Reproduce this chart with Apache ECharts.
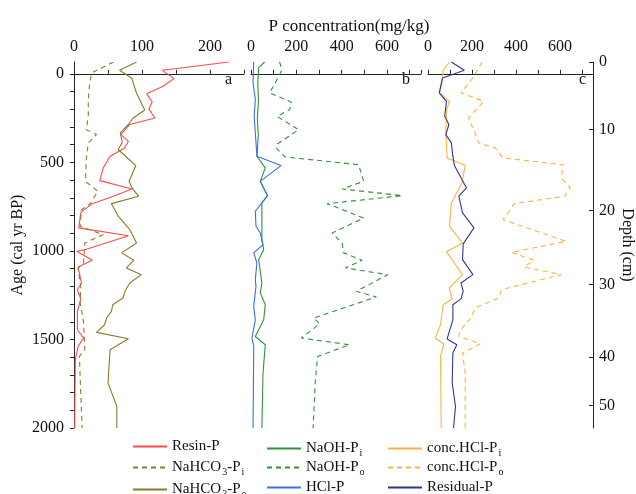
<!DOCTYPE html>
<html>
<head>
<meta charset="utf-8">
<script src="https://cdn.jsdelivr.net/npm/echarts@6/dist/echarts.min.js"></script>
<style>html,body{margin:0;padding:0;background:#fff}#c{width:636px;height:494px}</style>
</head>
<body>
<div id="c"></div>
<script>
// ---- data: [value (mg/kg), age (cal yr BP)] ----
const resinP = [[228,-67],[130,-20],[147,27],[131,70],[107,113],[115,160],[110,198],[119,249],[82,286],[69,343],[80,381],[74,420],[53,465],[43,531],[38,603],[85,650],[58,691],[27,733],[10,782],[7,870],[80,914],[16,993],[4,1002],[27,1053],[6,1091],[11,1181],[5,1219],[10,1272],[5,1341],[5,1445],[14,1492],[6,1539],[2,1614],[1,2000]];
const nahco3Pi = [[58,-67],[26,-5],[23,51],[21,145],[21,240],[18,315],[33,343],[21,390],[18,484],[17,607],[35,663],[24,733],[11,767],[9,861],[43,908],[16,955],[14,1068],[6,1100],[10,1200],[9,1290],[14,1400],[16,1558],[8,1596],[9,1710],[12,2000]];
const nahco3Po = [[92,-67],[67,-20],[85,25],[92,110],[104,204],[87,249],[80,286],[68,333],[71,386],[65,427],[91,518],[81,606],[85,643],[95,691],[55,733],[65,804],[82,880],[92,955],[70,1011],[88,1053],[77,1096],[99,1134],[82,1181],[75,1228],[72,1266],[57,1304],[55,1341],[48,1379],[45,1417],[33,1460],[80,1496],[53,1558],[50,1746],[63,1878],[63,2000]];
const naohPi = [[60,-67],[34,-35],[30,50],[33,150],[28,250],[32,350],[26,465],[63,531],[41,607],[73,688],[48,729],[48,936],[56,993],[34,1049],[48,1181],[41,1237],[63,1304],[56,1389],[19,1483],[63,1530],[53,1690],[48,2000]];
const naohPo = [[126,-67],[137,-24],[107,51],[82,107],[178,160],[171,202],[115,240],[210,315],[112,400],[115,425],[151,469],[475,513],[497,607],[402,650],[667,688],[336,733],[497,814],[358,899],[402,955],[409,1011],[490,1053],[416,1096],[603,1134],[465,1228],[553,1260],[276,1379],[303,1411],[222,1492],[435,1530],[294,1596],[284,1727],[274,2000]];
const hclP = [[12,-67],[9,51],[19,145],[14,240],[19,333],[26,465],[132,518],[41,607],[73,688],[19,776],[22,861],[41,899],[53,965],[12,1011],[26,1068],[19,1162],[22,1200],[12,1313],[19,1389],[4,1492],[12,1539],[9,2000]];
const concHclPi = [[98,-67],[69,-20],[66,32],[54,107],[98,155],[85,200],[81,333],[87,475],[169,518],[154,616],[106,729],[98,861],[157,955],[84,1005],[120,1068],[157,1134],[96,1209],[110,1271],[69,1304],[57,1417],[32,1492],[72,1524],[57,1596],[60,2000]];
const concHclPo = [[246,-67],[204,23],[150,107],[253,155],[184,249],[213,333],[231,390],[305,418],[341,475],[614,513],[606,588],[646,644],[621,691],[393,733],[341,823],[628,946],[378,1008],[481,1053],[437,1091],[606,1134],[334,1219],[319,1266],[216,1322],[194,1379],[143,1454],[140,1483],[238,1524],[157,1577],[169,1690],[169,2000]];
const residualP = [[106,-67],[165,-20],[66,23],[51,107],[84,155],[76,240],[95,286],[81,343],[106,390],[113,465],[120,518],[175,644],[140,691],[157,785],[209,870],[160,960],[157,1049],[204,1134],[150,1181],[160,1228],[150,1271],[113,1304],[113,1389],[87,1497],[131,1530],[113,1577],[110,1746],[125,1878],[116,2000]];

// ---- axes ----
const ageTicks = [0,100,200,300,400,500,600,700,800,900,1000,1100,1200,1300,1400,1500,1600,1700,1800,1900,2000];
const ageLabels = [0,500,1000,1500,2000];
const depthLabels = [0,10,20,30,40,50];
const depthAges = [-67,315,772,1190,1599,1872];
const xLabelsA = [0,100,200];
const xLabelsBC = [0,200,400,600];

const FONT = "'Liberation Serif','Times New Roman',serif";
const chart = echarts.init(document.getElementById('c'), null, {renderer:'canvas'});

const axisLine = {show:true, lineStyle:{color:'#222', width:1}};
function xAx(grid, max, interval, labels){
  return {type:'value', gridIndex:grid, position:'top', min:0, max:max, interval:interval,
    axisLine:axisLine, splitLine:{show:false},
    axisTick:{show:true, length:4, lineStyle:{color:'#222'}},
    axisLabel:{fontFamily:FONT, fontSize:16, color:'#111', margin:7,
      formatter:(v)=> labels.indexOf(v)>=0 ? String(v) : ''}};
}
function yHidden(grid){
  return {type:'value', gridIndex:grid, inverse:true, min:-67, max:2000, show:false};
}
const subs = {
  'Resin-P':'{t|Resin-P}',
  'NaHCO3-Pi':'{t|NaHCO}{s|3}{t|-P}{s|i}',
  'NaHCO3-Po':'{t|NaHCO}{s|3}{t|-P}{s|o}',
  'NaOH-Pi':'{t|NaOH-P}{s|i}',
  'NaOH-Po':'{t|NaOH-P}{s|o}',
  'HCl-P':'{t|HCl-P}',
  'conc.HCl-Pi':'{t|conc.HCl-P}{s|i}',
  'conc.HCl-Po':'{t|conc.HCl-P}{s|o}',
  'Residual-P':'{t|Residual-P}'
};
const legendCols = [132, 266, 387];
const legendRows = [439, 458, 480];
const legendGrid = [
  ['Resin-P','NaOH-Pi','conc.HCl-Pi'],
  ['NaHCO3-Pi','NaOH-Po','conc.HCl-Po'],
  ['NaHCO3-Po','HCl-P','Residual-P']
];
function legendAt(left, top, name){
  return {orient:'horizontal', left:left, top:top, itemWidth:34, itemHeight:14, itemGap:6,
    data:[name], selectedMode:false, padding:0,
    itemStyle:{opacity:0},
    formatter:(n)=>subs[n],
    textStyle:{fontFamily:FONT, fontSize:15, color:'#111',
      rich:{t:{fontFamily:FONT, fontSize:15, color:'#111', lineHeight:15},
            s:{fontFamily:FONT, fontSize:10, color:'#111', lineHeight:15, padding:[9,0,0,1]}}}};
}
const legends = [];
legendGrid.forEach((row, r)=>row.forEach((n, c)=>legends.push(legendAt(legendCols[c], legendRows[r], n))));

function ser(name, data, xi, yi, color, dashed){
  return {name:name, type:'line', data:data, xAxisIndex:xi, yAxisIndex:yi, symbol:'none',
    showSymbol:false, animation:false, silent:true,
    lineStyle:{color:color, width:1.1, type: dashed ? [5,4] : 'solid'},
    itemStyle:{color:color}};
}
const RED='#ff4b4b', OLIVE='#8a7a2c', GREEN='#34903a', BLUE='#3a6fe0', ORANGE='#ffb23c', NAVY='#2d3890';

chart.setOption({
  animation:false,
  backgroundColor:'#fff',
  grid:[
    {left:74, width:170, top:62, height:366},
    {left:251, width:170, top:62, height:366},
    {left:428, width:169, top:62, height:366}
  ],
  xAxis:[xAx(0,250,50,xLabelsA), xAx(1,750,100,xLabelsBC), xAx(2,750,100,xLabelsBC)],
  yAxis:[
    {type:'value', gridIndex:0, inverse:true, min:-67, max:2000, position:'left',
     name:'Age (cal yr BP)', nameLocation:'middle', nameGap:48, nameRotate:90,
     nameTextStyle:{fontFamily:FONT, fontSize:16, color:'#111'},
     axisLine:axisLine, splitLine:{show:false},
     axisTick:{show:true, length:4, customValues:ageTicks, lineStyle:{color:'#222'}},
     axisLabel:{fontFamily:FONT, fontSize:16, color:'#111', margin:10, customValues:ageLabels,
       formatter:(v)=>String(v)}},
    yHidden(1),
    yHidden(2),
    {type:'value', gridIndex:2, inverse:true, min:-67, max:2000, position:'right',
     name:'Depth (cm)', nameLocation:'middle', nameGap:26, nameRotate:-90,
     nameTextStyle:{fontFamily:FONT, fontSize:16, color:'#111'},
     axisLine:axisLine, splitLine:{show:false},
     axisTick:{show:true, inside:true, length:4, customValues:depthAges, lineStyle:{color:'#222'}},
     axisLabel:{fontFamily:FONT, fontSize:16, color:'#111', margin:6, customValues:depthAges,
       formatter:(v)=>{const i=depthAges.indexOf(v); return i>=0? String(depthLabels[i]) : '';}}}
  ],
  title:{text:'P concentration(mg/kg)', left:344, top:13, textAlign:'center',
    textStyle:{fontFamily:FONT, fontSize:17, fontWeight:'normal', color:'#111'}},
  graphic:[
    {type:'text', left:225, top:72, style:{text:'a', font:"16px 'Liberation Serif'", fill:'#111'}},
    {type:'text', left:402, top:72, style:{text:'b', font:"16px 'Liberation Serif'", fill:'#111'}},
    {type:'text', left:579, top:72, style:{text:'c', font:"16px 'Liberation Serif'", fill:'#111'}}
  ],
  legend:legends,
  series:[
    ser('Resin-P', resinP, 0, 0, RED, false),
    ser('NaHCO3-Pi', nahco3Pi, 0, 0, OLIVE, true),
    ser('NaHCO3-Po', nahco3Po, 0, 0, OLIVE, false),
    ser('NaOH-Pi', naohPi, 1, 1, GREEN, false),
    ser('NaOH-Po', naohPo, 1, 1, GREEN, true),
    ser('HCl-P', hclP, 1, 1, BLUE, false),
    ser('conc.HCl-Pi', concHclPi, 2, 2, ORANGE, false),
    ser('conc.HCl-Po', concHclPo, 2, 2, ORANGE, true),
    ser('Residual-P', residualP, 2, 2, NAVY, false)
  ]
});
</script>
</body>
</html>
